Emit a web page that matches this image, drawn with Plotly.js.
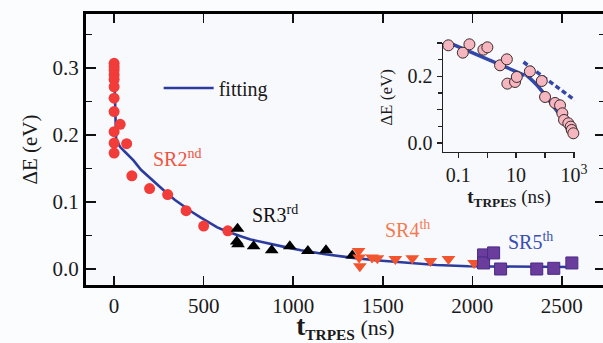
<!DOCTYPE html>
<html>
<head>
<meta charset="utf-8">
<script src="https://cdn.plot.ly/plotly-3.0.1.min.js"></script>
<style>
html,body{margin:0;padding:0;overflow:hidden;background:#fbfcfe;}
#chart{width:606px;height:343px;}
</style>
</head>
<body>
<div id="chart"></div>
<script>
// Main plot data (t in ns, ΔE in eV)
const sr2T = [0,0,0,0,0,0,0,0,0,0,0,34,70,99,198,299,402,500,635];
const sr2E = [0.307,0.302,0.297,0.290,0.283,0.272,0.255,0.235,0.205,0.188,0.173,0.216,0.187,0.139,0.120,0.111,0.087,0.064,0.057];
const sr3T = [689,685,692,779,880,981,1082,1183,1330];
const sr3E = [0.060,0.041,0.037,0.034,0.028,0.034,0.027,0.028,0.020];
const sr4T = [1365,1368,1372,1440,1470,1570,1665,1766,1867,2010];
const sr4E = [0.027,0.017,0.004,0.017,0.016,0.015,0.016,0.012,0.015,0.009];
const sr5T = [2063,2063,2119,2158,2360,2455,2556];
const sr5E = [0.021,0.009,0.024,0.000,0.000,0.001,0.009];
const fitT = [0,3,6,9,11,20,34,60,108,150,202,250,295,340,389,435,482,530,576,620,667,715,762,810,858,950,1043,1180,1323,1460,1603,1800,1979,2300,2560];
const fitE = [0.301,0.268,0.236,0.210,0.195,0.189,0.182,0.175,0.162,0.148,0.135,0.123,0.113,0.103,0.093,0.085,0.077,0.069,0.062,0.057,0.052,0.048,0.044,0.041,0.038,0.033,0.028,0.022,0.017,0.013,0.010,0.006,0.004,0.003,0.003];
const xTicks = [0,500,1000,1500,2000,2500];
const yTicks = [0.0,0.1,0.2,0.3];

// Inset data (log time axis)
const insT = [0.046,0.095,0.145,0.245,0.385,0.745,1.02,2.8,4.8,5.0,9.2,10.6,30,77,100,221,329,395,452,636,769,834,946,1172];
const insE = [0.293,0.305,0.271,0.296,0.305,0.280,0.287,0.233,0.251,0.178,0.183,0.198,0.215,0.186,0.138,0.120,0.113,0.089,0.069,0.059,0.049,0.039,0.029,0.032];
const insFit1T = [0.045,20];
const insFit1E = [0.302,0.203];
const insFit2T = [22,60,150,430,1070];
const insFit2E = [0.205,0.168,0.123,0.069,0.017];
const insDashT = [18,1070];
const insDashE = [0.243,0.128];
const insXTicks = [0.1,1,10,100,1000];
const insXText = ['0.1',' ','10',' ','10<sup>3</sup>'];
const insYTicks = [0,0.1,0.2,0.3];
const insYText = ['0.0',' ','0.2',' '];

const serif = 'Liberation Serif, Times New Roman, serif';
const blue = '#2b3c9e';

const traces = [
  {x: fitT, y: fitE, mode: 'lines', name: 'fitting', line: {color: blue, width: 2.6}, showlegend: true},
  {x: sr2T, y: sr2E, mode: 'markers', showlegend: false, marker: {symbol: 'circle', size: 11, color: '#f13c3a'}},
  {x: sr3T, y: sr3E, mode: 'markers', showlegend: false, marker: {symbol: 'triangle-up', size: 12, color: '#000000'}},
  {x: sr4T, y: sr4E, mode: 'markers', showlegend: false, marker: {symbol: 'triangle-down', size: 12, color: '#f2542e'}},
  {x: sr5T, y: sr5E, mode: 'markers', showlegend: false, marker: {symbol: 'square', size: 12, color: '#6a3d9c', line: {color: '#4a2a86', width: 1}}},
  {x: insFit1T, y: insFit1E, xaxis: 'x2', yaxis: 'y2', mode: 'lines', showlegend: false, line: {color: '#3347a8', width: 3.5}},
  {x: insFit2T, y: insFit2E, xaxis: 'x2', yaxis: 'y2', mode: 'lines', showlegend: false, line: {color: '#3347a8', width: 3.5, shape: 'spline'}},
  {x: insDashT, y: insDashE, xaxis: 'x2', yaxis: 'y2', mode: 'lines', showlegend: false, line: {color: '#3347a8', width: 3.5, dash: '5px,3px'}},
  {x: insT, y: insE, xaxis: 'x2', yaxis: 'y2', mode: 'markers', showlegend: false, cliponaxis: false, marker: {symbol: 'circle', size: 11, color: '#f6b6c0', line: {color: '#3a2a2c', width: 1}}}
];

const layout = {
  width: 606, height: 343,
  margin: {l: 86, r: 1, t: 14, b: 58},
  paper_bgcolor: '#fbfcfe',
  plot_bgcolor: '#f8f9fc',
  font: {family: serif, color: '#1a1a1a', size: 21},
  showlegend: true,
  legend: {x: 0.14, y: 0.727, xanchor: 'left', yanchor: 'middle', bgcolor: 'rgba(0,0,0,0)', font: {family: serif, size: 20, color: '#1a1a1a'}, itemwidth: 50},
  xaxis: {
    range: [-157, 2741], tickvals: xTicks, ticks: 'inside', ticklen: 9, tickwidth: 1.5, tickcolor: '#111',
    showline: true, linewidth: 3, linecolor: '#000', mirror: 'ticks', showgrid: false, zeroline: false,
    tickfont: {family: serif, size: 21, color: '#1a1a1a'},
    title: {text: "<span style='font-size:27px'><b>t</b></span><sub><b>TRPES</b></sub> (ns)", font: {family: serif, size: 22, color: '#1a1a1a'}, standoff: 9}
  },
  yaxis: {
    range: [-0.0239, 0.3806], tickvals: yTicks, tickformat: '.1f', ticks: 'inside', ticklen: 10, tickwidth: 1.5, tickcolor: '#111',
    minor: {dtick: 0.05, ticks: 'inside', ticklen: 6, tickwidth: 1.5, tickcolor: '#111'},
    showline: true, linewidth: 3, linecolor: '#000', mirror: 'ticks', showgrid: false, zeroline: false,
    tickfont: {family: serif, size: 21, color: '#1a1a1a'},
    title: {text: 'ΔE (eV)', font: {family: serif, size: 21, color: '#1a1a1a'}, standoff: 10}
  },
  xaxis2: {
    type: 'log', domain: [0.688, 0.942], anchor: 'y2', range: [-1.52, 3.03],
    tickvals: insXTicks, ticktext: insXText, ticks: 'outside', ticklen: 5, tickwidth: 1.2, tickcolor: '#222',
    showline: true, linewidth: 1.5, linecolor: '#222', showgrid: false, zeroline: false,
    tickfont: {family: serif, size: 20, color: '#1a1a1a'},
    title: {text: "<b>t</b><sub><b>TRPES</b></sub> (ns)", font: {family: serif, size: 19, color: '#1a1a1a'}, standoff: 0}
  },
  yaxis2: {
    domain: [0.491, 0.893], anchor: 'x2', range: [-0.027, 0.30],
    tickvals: insYTicks, ticktext: insYText, ticks: 'outside', ticklen: 5, tickwidth: 1.2, tickcolor: '#222',
    minor: {dtick: 0.05, ticks: 'outside', ticklen: 4, tickwidth: 1.2, tickcolor: '#222'},
    showline: true, linewidth: 1.5, linecolor: '#222', showgrid: false, zeroline: false,
    tickfont: {family: serif, size: 20, color: '#1a1a1a'},
    title: {text: 'ΔE (eV)', font: {family: serif, size: 17, color: '#1a1a1a'}, standoff: 10}
  },
  annotations: [
    {x: 353, y: 0.166, xref: 'x', yref: 'y', text: 'SR2<sup>nd</sup>', showarrow: false, font: {family: serif, size: 20, color: '#f0533e'}},
    {x: 897, y: 0.082, xref: 'x', yref: 'y', text: 'SR3<sup>rd</sup>', showarrow: false, font: {family: serif, size: 20, color: '#111'}},
    {x: 1637, y: 0.060, xref: 'x', yref: 'y', text: 'SR4<sup>th</sup>', showarrow: false, font: {family: serif, size: 20, color: '#f47a52'}},
    {x: 2326, y: 0.042, xref: 'x', yref: 'y', text: 'SR5<sup>th</sup>', showarrow: false, font: {family: serif, size: 20, color: '#3a4fb0'}}
  ]
};

Plotly.newPlot('chart', traces, layout, {displayModeBar: false, staticPlot: true});
</script>
</body>
</html>
